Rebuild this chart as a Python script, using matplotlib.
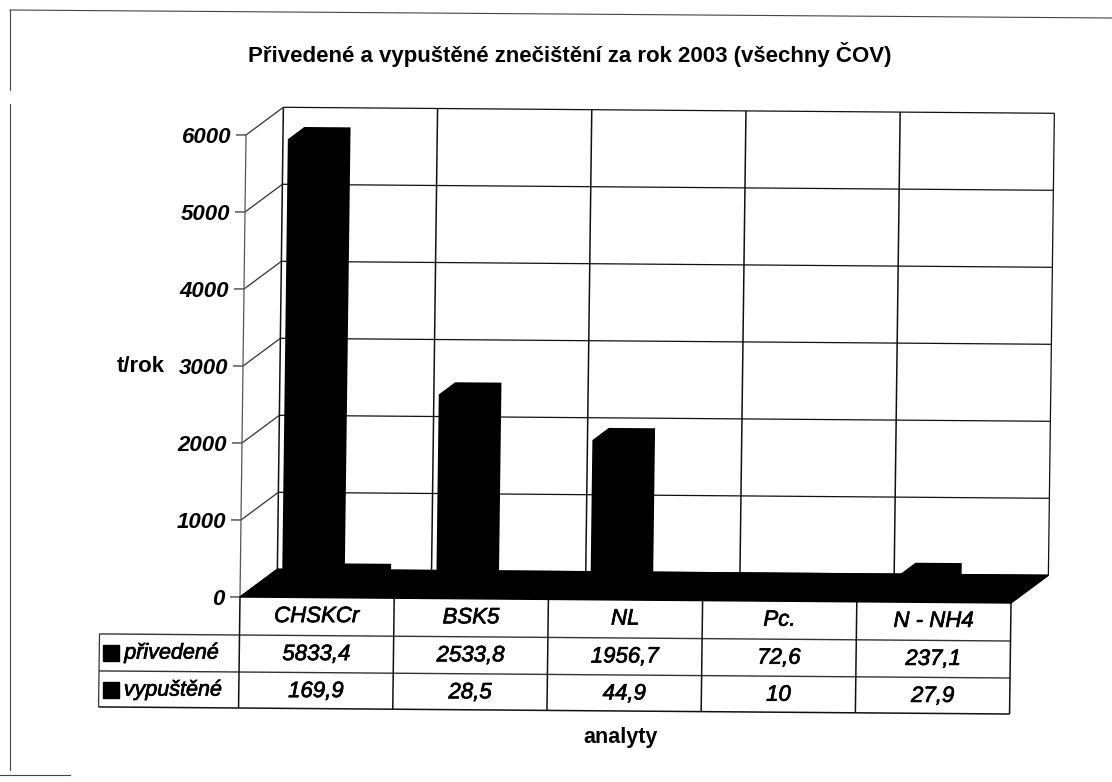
import matplotlib
matplotlib.use("Agg")
import matplotlib.pyplot as plt
import matplotlib.patheffects as pe
from matplotlib.lines import Line2D
from matplotlib.transforms import Affine2D

categories = ["CHSKCr", "BSK5", "NL", "Pc.", "N - NH4"]
privedene = [5833.4, 2533.8, 1956.7, 72.6, 237.1]
vypustene = [169.9, 28.5, 44.9, 10, 27.9]
series_names = ["přivedené", "vypuštěné"]
y_ticks = [0, 1000, 2000, 3000, 4000, 5000, 6000]
title = "Přivedené a vypuštěné znečištění za rok 2003 (všechny ČOV)"

W, H = 1112, 782
L, B, PW, PH = 240, 597, 771, 462
PX_CAT = PW / 5
PX_VAL = PH / 6000
DX = 37 / PX_CAT
DY = 28 / PX_VAL

plt.rcParams["font.family"] = ["Liberation Sans", "DejaVu Sans"]
fig = plt.figure(figsize=(W / 100, H / 100), dpi=100, facecolor="white")
ax = fig.add_axes([L / W, (H - B) / H, PW / W, PH / H])
ax.set_xlim(0, 5)
ax.set_ylim(0, 6000)
ax.patch.set_visible(False)
for s in ax.spines.values():
    s.set_visible(False)
ax.set_xticks([])
ax.set_yticks(y_ticks)
ax.autoscale(False)

# slight skew of the scanned page
shear = (Affine2D().translate(-L, -(H - B))
         + Affine2D.from_values(1, -0.0078, 0.013, 1, 0, 0)
         + Affine2D().translate(L, H - B))
T = ax.transData + shear
heavy = [pe.withStroke(linewidth=0.5, foreground="black")]


def line(xs, ys, lw=0.9, color="#111111", z=2):
    ax.plot(xs, ys, transform=T, clip_on=False, lw=lw, color=color, zorder=z,
            solid_capstyle="butt")


# back wall and side wall
for v in y_ticks:
    line([DX, 5 + DX], [v + DY, v + DY])
    line([0, DX], [v, v + DY], color="#333333")
    line([-10 / PX_CAT, 0], [v, v], color="#333333")
for i in range(6):
    line([i + DX, i + DX], [DY, 6000 + DY], lw=1.1 if i < 5 else 0.9)
line([0, 0], [0, 6000], color="#555555")

# floor
ax.fill([0, 5, 5 + DX, DX], [0, 0, DY, DY], color="black", transform=T, clip_on=False, zorder=3)

# columns
GROUP_LEFT, BAR_W, D0, D1 = 0.195, 0.30, 0.32, 0.76
for s, values in enumerate([privedene, vypustene]):
    for i, v in enumerate(values):
        x0 = i + GROUP_LEFT + s * BAR_W
        x1 = x0 + BAR_W
        xs = [x0 + D0 * DX, x0 + D0 * DX, x0 + D1 * DX, x1 + D1 * DX, x1 + D1 * DX, x1 + D0 * DX]
        ys = [D0 * DY, v + D0 * DY, v + D1 * DY, v + D1 * DY, D1 * DY, D0 * DY]
        ax.fill(xs, ys, color="black", lw=0, transform=T, clip_on=False, zorder=4)

# y axis labels
for tick, v in zip(ax.yaxis.get_major_ticks(), y_ticks):
    tick.tick1line.set_visible(False)
    tick.set_pad((10.5 - 7 * v / 6000) * 0.72)
    tick.label1.set_fontsize(16)
    tick.label1.set_fontweight("bold")
    tick.label1.set_fontstyle("italic")
ax.set_ylabel("t/rok", rotation=0, fontsize=16, fontweight="bold", ha="center", va="center")
ax.yaxis.set_label_coords((141 - L) / PW, (B - 366) / PH)
ax.set_xlabel("analyty", fontsize=15.5, fontweight="bold", ha="center", va="center")
ax.xaxis.set_label_coords((621 - L) / PW, (B - 738) / PH)
ax.set_title(title, fontsize=16, fontweight="bold", x=(570 - L) / PW, y=(B - 70) / PH, va="baseline")

# data table
row_px = [38, 75, 111]
rows = [-p / PX_VAL for p in row_px]
left = -140 / PX_CAT
line([left, 5], [rows[0], rows[0]], lw=1.0, color="#333333")
line([left, 5], [rows[1], rows[1]], lw=1.0, color="#333333")
line([left, 5], [rows[2], rows[2]], lw=1.1)
line([left, left], [rows[0], rows[2]], lw=0.9, color="#333333")
for i in range(6):
    line([i, i], [0, rows[2]], lw=1.1)

cell = dict(fontsize=16, fontstyle="italic", ha="center", va="center", transform=T, clip_on=False,
            path_effects=heavy)
for i, name in enumerate(categories):
    ax.text(i + 0.5, -19 / PX_VAL, name, **cell)
    ax.text(i + 0.5, -57 / PX_VAL, f"{privedene[i]:g}".replace(".", ","), **cell)
    ax.text(i + 0.5, -94 / PX_VAL, f"{vypustene[i]:g}".replace(".", ","), **cell)
for r, name in enumerate(series_names):
    y = (-57 - 37 * r) / PX_VAL
    ax.text(-115 / PX_CAT, y, name, fontsize=15.5, fontstyle="italic", ha="left", va="center",
            transform=T, clip_on=False, path_effects=heavy)
    ax.plot([-128 / PX_CAT], [y], marker="s", ms=11.5, color="black", transform=T, clip_on=False)

# page frame
for xs, ys in [((10, 1112), (10, 18)), ((10, 10), (10, 90)), ((10, 10), (104, 770)), ((0, 70), (775, 775))]:
    fig.add_artist(Line2D([x / W for x in xs], [1 - y / H for y in ys], lw=0.8, color="#444444"))

fig.savefig("out.png", dpi=100)
